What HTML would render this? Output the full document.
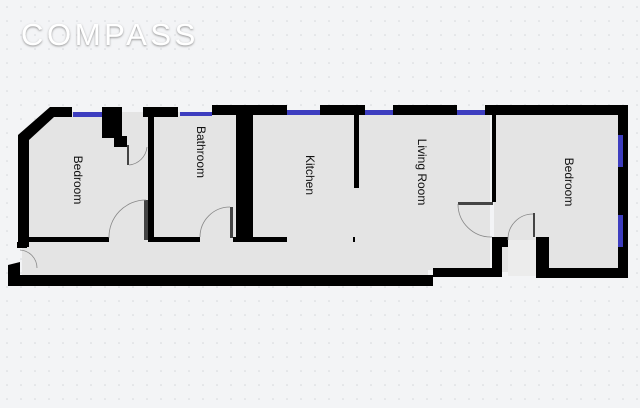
<!DOCTYPE html>
<html><head><style>
html,body{margin:0;padding:0;background:#f3f4f6;}
svg{display:block}
</style></head><body>
<svg width="640" height="408" viewBox="0 0 640 408" xmlns="http://www.w3.org/2000/svg">
<defs>
<pattern id="dots" width="14" height="14" patternUnits="userSpaceOnUse">
<circle cx="7" cy="7" r="0.8" fill="#d4d6da"/>
</pattern>
<filter id="sh" x="-10%" y="-30%" width="120%" height="160%">
<feDropShadow dx="0" dy="1" stdDeviation="1" flood-color="#777" flood-opacity="0.8"/>
</filter>
</defs>
<rect width="640" height="408" fill="#f3f4f6"/>
<rect width="640" height="408" fill="url(#dots)"/>
<text x="21" y="45" font-family="Liberation Sans, sans-serif" font-size="31" fill="#fff" letter-spacing="3.6" filter="url(#sh)">COMPASS</text>

<!-- floor -->
<polygon points="22,138 52,112 490,112 490,270 428,270 428,278 22,278" fill="#e4e4e4"/>
<rect x="494" y="112" width="126" height="160" fill="#e4e4e4"/>
<rect x="508" y="240" width="28" height="36" fill="#ececec"/>

<!-- walls -->
<g fill="#000">
<polygon points="18,135 50,107 72,107 72,117 54,117 29,140 29,247 18,247"/>
<rect x="102" y="107" width="20" height="31"/>
<rect x="114" y="136" width="13" height="11"/>
<rect x="29" y="237" width="80" height="5"/>
<rect x="17" y="242" width="10" height="6"/>
<polygon points="8,265 20,262 20,275 433,275 433,268 502,268 502,277 433,277 433,286 8,286"/>
<rect x="143" y="107" width="35" height="10"/>
<rect x="148" y="107" width="6" height="135"/>
<rect x="212" y="105" width="75" height="10"/>
<rect x="236" y="105" width="17" height="137"/>
<rect x="154" y="237" width="46" height="5"/>
<rect x="233" y="237" width="54" height="5"/>
<rect x="320" y="105" width="45" height="10"/>
<rect x="393" y="105" width="64" height="10"/>
<rect x="485" y="105" width="143" height="10"/>
<rect x="354" y="110" width="5" height="78"/>
<rect x="353" y="237" width="2" height="5"/>
<rect x="492" y="105" width="4" height="97"/>
<rect x="492" y="237" width="10" height="40"/>
<rect x="492" y="237" width="16" height="10"/>
<rect x="618" y="105" width="10" height="173"/>
<rect x="536" y="237" width="13" height="41"/>
<rect x="536" y="268" width="92" height="10"/>
</g>
<g fill="#444">
<rect x="127" y="145" width="2" height="20"/>
<rect x="144" y="200" width="4" height="40"/>
<rect x="230" y="207" width="3" height="31"/>
<rect x="458" y="202" width="35" height="3"/>
<rect x="533" y="213" width="2" height="24"/>
</g>
<g fill="#3d3dbf">
<rect x="73" y="112" width="29" height="5"/>
<rect x="180" y="112" width="32" height="4"/>
<rect x="287" y="110" width="33" height="5"/>
<rect x="365" y="110" width="28" height="5"/>
<rect x="457" y="110" width="28" height="5"/>
<rect x="618" y="135" width="5" height="32"/>
<rect x="618" y="215" width="5" height="32"/>
</g>
<g fill="none" stroke="#888" stroke-width="0.8">
<path d="M129,165 A20,20 0 0 0 147,147"/>
<path d="M109,238 A37,37 0 0 1 146,200"/>
<path d="M200,237 A30,30 0 0 1 230,207"/>
<path d="M458,204 A33,33 0 0 0 492,237"/>
<path d="M508,240 A25,25 0 0 1 533,214"/>
<path d="M20,250 A18,18 0 0 1 37,268"/>
</g>
<g font-family="Liberation Sans, sans-serif" font-size="12" fill="#111" text-anchor="middle">
<text transform="translate(74,180) rotate(90)">Bedroom</text>
<text transform="translate(197,152) rotate(90)">Bathroom</text>
<text transform="translate(306,175) rotate(90)">Kitchen</text>
<text transform="translate(418,172) rotate(90)">Living Room</text>
<text transform="translate(565,182) rotate(90)">Bedroom</text>
</g>
</svg>
</body></html>
